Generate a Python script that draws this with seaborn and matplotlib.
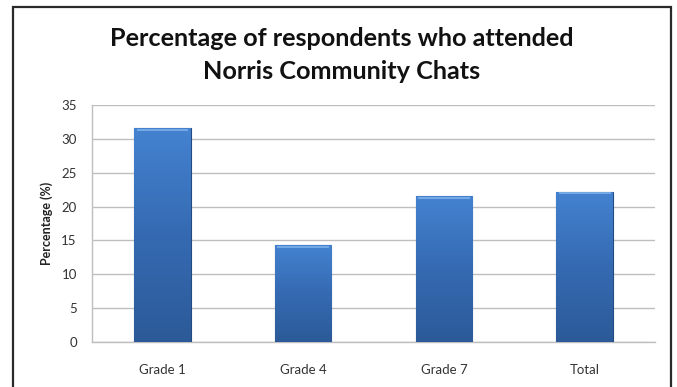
import numpy as np
import pandas as pd
import matplotlib
matplotlib.use("Agg")
import matplotlib.pyplot as plt
from matplotlib.patches import Rectangle
from matplotlib.colors import LinearSegmentedColormap
import seaborn as sns

categories = ["Grade 1", "Grade 4", "Grade 7", "Total"]
percentages = [31.6, 14.3, 21.5, 22.2]
y_ticks = [0, 5, 10, 15, 20, 25, 30, 35]

df = pd.DataFrame({"group": categories, "pct": percentages})

sns.set_theme(style="white")
plt.rcParams["font.family"] = ["Lato", "DejaVu Sans"]

fig = plt.figure(figsize=(6.77, 3.87), dpi=100)
ax = fig.add_axes([0.136, 0.1163, 0.8315, 0.6124])

sns.barplot(data=df, x="group", y="pct", ax=ax, color="#3B74C0",
            width=0.40, edgecolor="#244A82", linewidth=0.8, zorder=3)

# vertical gradient fill on each bar, lighter at the top
grad_cmap = LinearSegmentedColormap.from_list(
    "bar_grad", ["#2C5A98", "#356AB2", "#4482D0"])
grad = np.linspace(0, 1, 256).reshape(-1, 1)
for patch in ax.patches:
    x0, y0 = patch.get_x(), patch.get_y()
    w, h = patch.get_width(), patch.get_height()
    im = ax.imshow(grad, cmap=grad_cmap, origin="lower", aspect="auto",
                   extent=[x0, x0 + w, y0, y0 + h], zorder=3.5)
    im.set_clip_path(patch)
    # thin highlight along the top edge
    ax.plot([x0 + w * 0.04, x0 + w * 0.96], [y0 + h - 0.25, y0 + h - 0.25],
            color="#7FB0EA", lw=1.2, zorder=4, solid_capstyle="butt")

ax.set_xlim(-0.5, 3.5)
ax.set_ylim(0, 35)
ax.set_yticks(y_ticks)
ax.yaxis.grid(True, color="#BEBEBE", linewidth=1.0, zorder=0)
ax.set_axisbelow(True)
for side in ["top", "right"]:
    ax.spines[side].set_visible(False)
for side in ["left", "bottom"]:
    ax.spines[side].set_color("#BEBEBE")
    ax.spines[side].set_linewidth(1.0)

ax.tick_params(axis="y", length=0, pad=11, labelsize=9.5, labelcolor="#333333")
ax.tick_params(axis="x", length=0, pad=16, labelsize=9.5, labelcolor="#333333")
ax.set_xlabel("")
ax.set_ylabel("Percentage (%)", fontsize=9, fontweight="bold", color="#222222",
              labelpad=6)

fig.text(0.505, 0.858, "Percentage of respondents who attended\nNorris Community Chats",
         ha="center", va="center", fontsize=18.2, fontweight="bold",
         color="#111111", linespacing=1.5)

# outer chart frame
fig.patches.append(Rectangle((13 / 677, -0.05), (671 - 13) / 677, 1 - 7 / 387 + 0.05,
                             transform=fig.transFigure, fill=False,
                             edgecolor="#2A2A2A", linewidth=1.6, zorder=10))

fig.savefig("out.png", dpi=100)
